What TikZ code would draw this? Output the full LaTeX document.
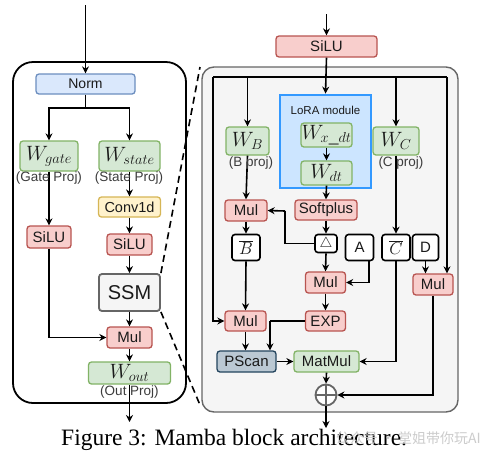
\documentclass[tikz,border=0pt]{standalone}
\usepackage{fontspec}
\setmainfont{Liberation Serif}
\setsansfont{Liberation Sans}
\newfontfamily\cjk{Noto Sans CJK SC}
\usetikzlibrary{arrows.meta,calc}
\newcommand\fsz[1]{\fontsize{#1}{#1}\selectfont}
\definecolor{redfill}{HTML}{F8CECC}
\definecolor{redline}{HTML}{B85450}
\definecolor{grnfill}{HTML}{D5E8D4}
\definecolor{grnline}{HTML}{82B366}
\definecolor{blufill}{HTML}{DAE8FC}
\definecolor{bluline}{HTML}{6C8EBF}
\definecolor{yelfill}{HTML}{FFF2CC}
\definecolor{yelline}{HTML}{D6B656}
\definecolor{gryfill}{HTML}{F5F5F5}
\definecolor{gryline}{HTML}{666666}
\definecolor{psfill}{HTML}{BAC8D3}
\definecolor{psline}{HTML}{23445D}
\definecolor{lorafill}{HTML}{CCE5FF}
\definecolor{loraline}{HTML}{3399FF}
\definecolor{txt}{HTML}{1A1A1A}
\tikzset{
  bx/.style={draw, rounded corners=3pt, line width=1.3pt, inner sep=0pt, text=txt, font=\sffamily\fsz{15}},
  redb/.style={bx, fill=redfill, draw=redline},
  grnb/.style={bx, fill=grnfill, draw=grnline, font=\fsz{19.5}},
  blub/.style={bx, fill=blufill, draw=bluline},
  yelb/.style={bx, fill=yelfill, draw=yelline},
  psb/.style={bx, fill=psfill, draw=psline},
  whb/.style={bx, fill=white, draw=black, line width=1.6pt},
  lbl/.style={inner sep=0pt, text=txt!85, font=\sffamily\fsz{13.5}},
  wire/.style={line width=1.6pt, black},
  arr/.style={wire, -{Stealth[length=7pt,width=7pt]}},
  dsh/.style={line width=1.6pt, black, dash pattern=on 7pt off 4.5pt},
}
\begin{document}
\begin{tikzpicture}[x=1pt,y=-1pt]
\useasboundingbox[fill=white] (0,0) rectangle (482,456);

% panels
\draw[fill=gryfill, draw=gryline, line width=1.4pt, rounded corners=12pt] (202,67) rectangle (458,412);
\draw[line width=1.8pt, rounded corners=20pt] (13,62) rectangle (186,403);

% ---------- left panel ----------
\coordinate (lin) at (85.5,5);
\node[blub, font=\sffamily\fsz{14}, minimum width=99pt, minimum height=20pt] (norm) at (85.5,84) {Norm};
\coordinate (split) at (85.5,108);
\node[grnb, minimum width=58pt, minimum height=30pt] (wgate) at (49,156) {$W_{gate}$};
\node[grnb, minimum width=61pt, minimum height=30pt] (wstate) at (129.5,156) {$W_{state}$};
\node[yelb, font=\sffamily\fsz{14.5}, minimum width=62pt, minimum height=20pt] (conv) at (129.5,207) {Conv1d};
\node[redb, minimum width=44pt, minimum height=22pt] (silul) at (49,237) {SiLU};
\node[redb, minimum width=45pt, minimum height=21pt] (silur) at (129.5,244.5) {SiLU};
\node[bx, fill=gryfill, draw=gryline, line width=1.8pt, font=\sffamily\fsz{20}, minimum width=61pt, minimum height=37pt] (ssm) at (129.5,292.5) {SSM};
\node[redb, minimum width=45pt, minimum height=21pt] (mul) at (129.5,337.5) {Mul};
\node[grnb, minimum width=82pt, minimum height=22pt] (wout) at (129.5,373) {$W_{out}$};
\coordinate (lout) at (129.5,422);

\draw[arr] (lin) -- (norm.north);
\draw[wire] (norm.south) -- (split);
\draw[arr] (split) -| (wgate.north);
\draw[arr] (split) -| (wstate.north);
\draw[arr] (wgate.south) -- (silul.north);
\draw[arr] (wstate.south) -- (conv.north);
\draw[arr] (conv.south) -- (silur.north);
\draw[arr] (silur.south) -- (ssm.north);
\draw[arr] (ssm.south) -- (mul.north);
\draw[arr] (silul.south) |- (mul.west);
\draw[arr] (mul.south) -- (wout.north);
\draw[arr] (wout.south) -- (lout);

\node[lbl] (lgate) at (49,178) {(Gate Proj)};
\node[lbl] (lstate) at (129,178) {(State Proj)};
\node[lbl] (lout2) at (129.5,392) {(Out Proj)};

% ---------- right panel ----------
\coordinate (rin) at (326.5,14);
\node[redb, minimum width=101pt, minimum height=21pt] (rsilu) at (326.5,46.5) {SiLU};
\coordinate (busL) at (213,77);
\coordinate (busR) at (447,77);
\node[draw=loraline, fill=lorafill, line width=2.8pt, minimum width=91pt, minimum height=93pt, inner sep=0pt] (lora) at (325.5,141.5) {};
\node[inner sep=0pt, text=txt, font=\sffamily\fsz{11.5}] (loral) at (325.5,110) {LoRA module};
\node[grnb, minimum width=51pt, minimum height=24pt] (wxdt) at (326.5,135) {$W_{x\_dt}$};
\node[grnb, minimum width=51pt, minimum height=24pt] (wdt) at (326.5,173) {$W_{dt}$};
\node[redb, minimum width=62pt, minimum height=20pt] (soft) at (326,210) {Softplus};
\node[grnb, minimum width=43pt, minimum height=28pt] (wb) at (247.5,141) {$W_B$};
\node[grnb, minimum width=46pt, minimum height=28pt] (wc) at (396,141) {$W_C$};
\node[redb, minimum width=42pt, minimum height=21pt] (bmul) at (246,210.5) {Mul};
\node[whb, minimum width=22pt, minimum height=18pt] (delta) at (326,243.5) {$\bigtriangleup$};
\node[whb, font=\fsz{17}, minimum width=28pt, minimum height=26pt] (bbar) at (246,247.5) {$\overline{B}$};
\node[whb, minimum width=28pt, minimum height=26pt] (abox) at (359.5,247.5) {A};
\node[whb, font=\fsz{17}, minimum width=28pt, minimum height=26pt] (cbar) at (396,247.5) {$\overline{C}$};
\node[whb, minimum width=26pt, minimum height=26pt] (dbox) at (425.5,247.5) {D};
\node[redb, minimum width=40pt, minimum height=21pt] (dmul) at (433,284.5) {Mul};
\node[redb, minimum width=40pt, minimum height=21pt] (dlmul) at (325.5,282.5) {Mul};
\node[redb, minimum width=40pt, minimum height=20pt] (exp) at (325.5,321) {EXP};
\node[redb, minimum width=41pt, minimum height=20pt] (mul2) at (245.5,321) {Mul};
\node[psb, minimum width=59pt, minimum height=21pt] (pscan) at (246.5,361.5) {PScan};
\node[redb, fill=grnfill, draw=grnline, minimum width=65pt, minimum height=21pt] (matmul) at (326.5,361.5) {MatMul};
\node[circle, draw=gryline, fill=white, line width=1.8pt, minimum size=21pt, inner sep=0pt,
  path picture={\draw[gryline, line width=1.8pt] (path picture bounding box.north) -- (path picture bounding box.south)
  (path picture bounding box.west) -- (path picture bounding box.east);}] (plus) at (326,395) {};
\coordinate (rout) at (326,428);
\coordinate (elbow) at (285,211);
\coordinate (expd) at (270,321);

\draw[arr] (rin) -- (rsilu.north);
\draw[arr] (rsilu.south) -- (lora.north);
\draw[wire] (busL) -- (busR);
\draw[arr] (busL) |- (mul2.west);
\draw[arr] (busR) -- (busR |- dmul.north);
\draw[arr] (wb.north |- busL) -- (wb.north);
\draw[arr] (wc.north |- busL) -- (wc.north);
\draw[arr] (wxdt.south) -- (wdt.north);
\draw[arr] (wdt.south) -- (soft.north);
\draw[arr] (wb.south) -- (bmul.north);
\draw[arr] (soft.south) -- (delta.north);
\draw[wire] (delta.west) -| (elbow);
\draw[arr] (elbow) -- (bmul.east);
\draw[arr] (bmul.south) -- (bbar.north);
\draw[arr] (wc.south) -- (cbar.north);
\draw[arr] (delta.south) -- (dlmul.north);
\draw[arr] ([xshift=9.5pt]abox.south) |- (dlmul.east);
\draw[arr] (dbox.south) -- (dbox.south |- dmul.north);
\draw[arr] (dlmul.south) -- (exp.north);
\draw[arr] (bbar.south) -- (mul2.north);
\draw[arr] (mul2.south) -- (mul2.south |- pscan.north);
\draw[wire] (exp.west) -- (expd);
\draw[arr] (expd) -- (expd |- pscan.north);
\draw[arr] (pscan.east) -- (matmul.west);
\draw[arr] (cbar.south) |- (matmul.east);
\draw[arr] (matmul.south) -- (plus.north);
\draw[arr] (dmul.south) |- (plus.east);
\draw[arr] (plus.south) -- (rout);

\node[lbl] (lb) at (251,163) {(B proj)};
\node[lbl] (lc) at (401,163) {(C proj)};

% dashed zoom lines
\coordinate (rtl) at (200,67);
\coordinate (rbl) at (200,405);
\draw[dsh] (ssm.north east) -- (rtl);
\draw[dsh] (ssm.south east) -- (rbl);

% caption
\node[anchor=base west, inner sep=0pt, font=\fsz{23.5}] (cap) at (61,445) {Figure 3: Mamba block architecture.};
\node[anchor=base east, inner sep=0pt, text=gray!40, font=\cjk\fsz{14}] (wm) at (481,443) {公众号 · 堂姐带你玩AI};
\end{tikzpicture}
\end{document}
